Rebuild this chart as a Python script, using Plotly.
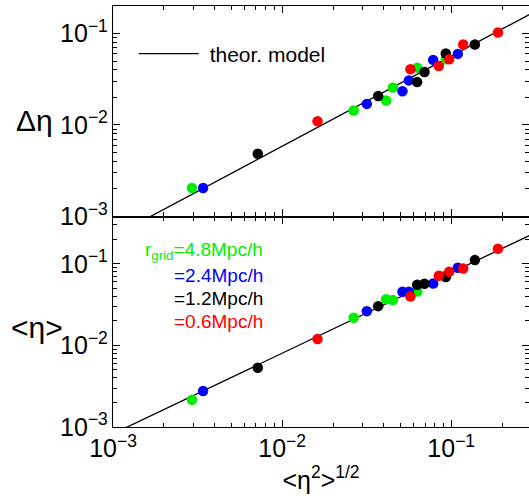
import plotly.graph_objects as go
from plotly.subplots import make_subplots

# rms <eta^2>^(1/2) per point, grouped by grid resolution
x_green = [2.93e-3, 2.65e-2, 4.12e-2, 4.52e-2, 6.30e-2, 9.29e-2]
x_blue = [3.41e-3, 3.17e-2, 5.15e-2, 5.62e-2, 7.82e-2, 1.094e-1]
x_black = [7.18e-3, 3.70e-2, 6.29e-2, 6.95e-2, 9.29e-2, 1.38e-1]
x_red = [1.62e-2, 5.74e-2, 8.45e-2, 9.73e-2, 1.178e-1, 1.89e-1]

# top panel: delta eta
dy_green = [2.05e-3, 1.44e-2, 1.85e-2, 2.57e-2, 4.23e-2, 5.22e-2]
dy_blue = [2.05e-3, 1.70e-2, 2.34e-2, 3.07e-2, 5.14e-2, 5.98e-2]
dy_black = [4.84e-3, 2.07e-2, 2.94e-2, 3.79e-2, 6.03e-2, 7.57e-2]
dy_red = [1.10e-2, 4.06e-2, 4.41e-2, 5.22e-2, 7.57e-2, 1.026e-1]

# bottom panel: <eta>
my_green = [2.16e-3, 2.18e-2, 3.69e-2, 3.59e-2, 4.58e-2, 7.26e-2]
my_blue = [2.76e-3, 2.63e-2, 4.54e-2, 4.54e-2, 5.74e-2, 8.93e-2]
my_black = [5.33e-3, 3.03e-2, 5.53e-2, 5.69e-2, 6.87e-2, 1.11e-1]
my_red = [1.20e-2, 3.98e-2, 7.13e-2, 7.98e-2, 8.77e-2, 1.53e-1]

# theoretical model line (endpoints)
model_x = [1.0e-3, 0.35]
model_dy = [6.05e-4, 0.194]
model_my = [8.26e-4, 0.268]

labels = ["r<sub>grid</sub>=4.8Mpc/h", "=2.4Mpc/h", "=1.2Mpc/h", "=0.6Mpc/h"]
colors = ["#00ee00", "#0000ff", "#000000", "#ff0000"]

xs = [x_green, x_blue, x_black, x_red]
dys = [dy_green, dy_blue, dy_black, dy_red]
mys = [my_green, my_blue, my_black, my_red]

FONT = "Arial, Liberation Sans, sans-serif"

fig = make_subplots(rows=2, cols=1, shared_xaxes=True, vertical_spacing=0)

fig.add_trace(go.Scatter(x=model_x, y=model_dy, mode="lines",
                         line=dict(color="black", width=1.3),
                         name="\u00a0theor. model", showlegend=True), row=1, col=1)
fig.add_trace(go.Scatter(x=model_x, y=model_my, mode="lines",
                         line=dict(color="black", width=1.3),
                         showlegend=False), row=2, col=1)

for x, dy, my, c in zip(xs, dys, mys, colors):
    fig.add_trace(go.Scatter(x=x, y=dy, mode="markers",
                             marker=dict(color=c, size=10.5),
                             showlegend=False), row=1, col=1)
    fig.add_trace(go.Scatter(x=x, y=my, mode="markers",
                             marker=dict(color=c, size=10.5),
                             showlegend=False), row=2, col=1)

axis_common = dict(type="log", showgrid=False, zeroline=False,
                   showline=True, linecolor="black", linewidth=1.3,
                   mirror="ticks", ticks="inside", ticklen=7,
                   tickcolor="black", dtick=1, exponentformat="power",
                   tickfont=dict(family=FONT, size=20, color="black"),
                   minor=dict(ticks="inside", ticklen=4, tickcolor="black",
                              showgrid=False))

fig.update_xaxes(**axis_common, range=[-3, -0.54])
fig.update_xaxes(showticklabels=False, row=1, col=1)
fig.update_xaxes(title=dict(text="&lt;η<sup>2</sup>&gt;<sup>1/2</sup>",
                            font=dict(family=FONT, size=25, color="black"),
                            standoff=6), row=2, col=1)
fig.update_yaxes(**axis_common)
fig.update_yaxes(range=[-3, -0.7], row=1, col=1)
fig.update_yaxes(range=[-3, -0.42], row=2, col=1)

# horizontal y-axis titles
fig.add_annotation(text="Δη", x=-0.139, y=0.729, xref="paper", yref="paper",
                   xanchor="right", yanchor="middle", showarrow=False,
                   font=dict(family=FONT, size=30, color="black"))
fig.add_annotation(text="&lt;η&gt;", x=-0.115, y=0.237, xref="paper", yref="paper",
                   xanchor="right", yanchor="middle", showarrow=False,
                   font=dict(family=FONT, size=30, color="black"))

ann_y = [0.417, 0.361, 0.305, 0.25]
for lab, c, yy in zip(labels, colors, ann_y):
    fig.add_annotation(text=lab, x=0.365, y=yy, xref="paper", yref="paper",
                       xanchor="right", yanchor="middle", showarrow=False,
                       font=dict(family=FONT, size=19, color=c))

fig.update_layout(
    width=529, height=500,
    margin=dict(l=113, r=0, t=6, b=73),
    paper_bgcolor="white", plot_bgcolor="white",
    font=dict(family=FONT, color="black"),
    legend=dict(x=0.05, y=0.886, xanchor="left", yanchor="middle",
                itemwidth=60, bgcolor="rgba(0,0,0,0)",
                font=dict(family=FONT, size=21, color="black")),
)

fig.write_html("out.html")
